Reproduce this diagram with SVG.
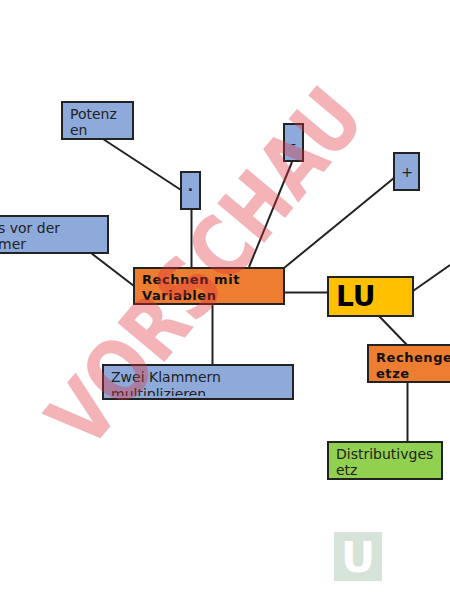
<svg xmlns="http://www.w3.org/2000/svg" width="450" height="600" viewBox="0 0 450 600">
<style>
.b{stroke:#222;stroke-width:2}
.blue{fill:#8eaadb}.or{fill:#ed7d31}
text{font-family:"DejaVu Sans",sans-serif}
.t{font-size:14px;fill:#222}
.h{font-size:13px;font-weight:bold;letter-spacing:.55px;fill:#111}
#conn line{stroke:#222;stroke-width:2}
</style>
<defs><clipPath id="c"><rect x="103" y="366" width="190" height="30"/></clipPath></defs>
<rect width="450" height="600" fill="#fff"/>
<g id="conn">
<line x1="103" y1="139" x2="181" y2="190"/>
<line x1="191.500" y1="210" x2="191.500" y2="267"/>
<line x1="91" y1="253" x2="134" y2="286"/>
<line x1="292" y1="162" x2="249" y2="267"/>
<line x1="394" y1="178" x2="284" y2="268"/>
<line x1="284" y1="292.500" x2="328" y2="292.500"/>
<line x1="212.500" y1="304" x2="212.500" y2="365"/>
<line x1="413" y1="291" x2="450" y2="265"/>
<line x1="379" y1="316" x2="407" y2="345"/>
<line x1="407.500" y1="382" x2="407.500" y2="442"/>
</g>
<g id="potenzen"><rect class="b blue" x="62" y="102" width="71" height="37"/><text class="t" x="70" y="119">Potenz</text><text class="t" x="70" y="135">en</text></g>
<g id="mal"><rect class="b blue" x="181" y="172" width="19" height="37"/><text class="t" x="190.500" y="195" text-anchor="middle" style="font-weight:bold">·</text></g>
<g id="minus"><rect class="b blue" x="284" y="124" width="19" height="37"/><text class="t" x="293.500" y="149" text-anchor="middle">-</text></g>
<g id="plus"><rect class="b blue" x="394" y="153" width="25" height="37"/><text class="t" x="407" y="177" text-anchor="middle">+</text></g>
<g id="vor"><rect class="b blue" x="-20" y="216" width="128" height="37"/><text class="t" x="-2" y="233">s vor der</text><text class="t" x="-2" y="249">mer</text></g>
<g id="rechnen"><rect class="b or" x="134" y="268" width="150" height="36"/><text class="h" x="142" y="284">Rechnen mit</text><text class="h" x="142" y="300">Variablen</text></g>
<g id="lu"><rect class="b" fill="#ffc000" x="328" y="277" width="85" height="39"/><text x="336" y="306" font-size="28" font-weight="bold" fill="#000">LU</text></g>
<g id="klammern"><rect class="b blue" x="103" y="365" width="190" height="34"/><text class="t" x="111" y="382">Zwei Klammern</text><text class="t" x="111" y="399" clip-path="url(#c)">multiplizieren</text></g>
<g id="rechengesetze"><rect class="b or" x="368" y="345" width="100" height="37"/><text class="h" x="376" y="362">Rechenge</text><text class="h" x="376" y="378">etze</text></g>
<g id="distributiv"><rect class="b" fill="#92d050" x="328" y="442" width="114" height="37"/><text class="t" x="336" y="459">Distributivges</text><text class="t" x="336" y="475">etz</text></g>
<g id="logo"><rect x="334" y="532" width="48" height="49" fill="#d5e3d8"/><text x="358" y="572" font-size="42" font-weight="bold" text-anchor="middle" fill="#fff">U</text></g>
<text id="wm" transform="translate(88 453) rotate(-50)" font-size="84" font-weight="bold" textLength="435" lengthAdjust="spacingAndGlyphs" fill="#e0303a" opacity=".36">VORSCHAU</text>
</svg>
